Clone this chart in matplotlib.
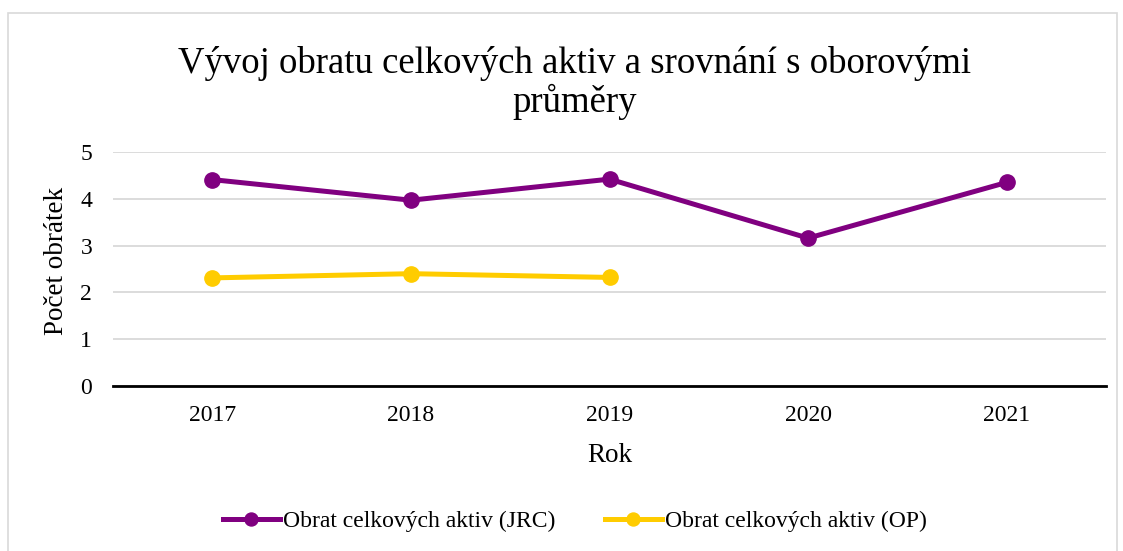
import matplotlib.pyplot as plt
from matplotlib.patches import Rectangle

years = ["2017", "2018", "2019", "2020", "2021"]
jrc = [4.41, 3.97, 4.42, 3.16, 4.35]
op_years = ["2017", "2018", "2019"]
op = [2.31, 2.40, 2.32]

plt.rcParams['font.family'] = ['Liberation Serif', 'DejaVu Serif']

fig = plt.figure(figsize=(11.23, 5.51), dpi=100)
W, H = 1123, 551
ax = fig.add_axes([113 / W, 1 - 386 / H, (1106 - 113) / W, (386 - 152) / H])

# chart border
fig.patches.append(Rectangle((8 / W, -0.01), (1117 - 8) / W, 1 - 13 / H + 0.01,
                             transform=fig.transFigure, fill=False,
                             edgecolor='#d9d9d9', linewidth=1.2))

x = list(range(len(years)))
ax.plot(x, jrc, color='#800080', linewidth=3.6, marker='o', markersize=11,
        label="Obrat celkových aktiv (JRC)", zorder=3)
ax.plot(x[:len(op)], op, color='#ffcc00', linewidth=3.6, marker='o', markersize=11,
        label="Obrat celkových aktiv (OP)", zorder=3)

ax.set_xlim(-0.5, len(years) - 0.5)
ax.set_ylim(0, 5)
ax.set_xticks(x)
ax.set_xticklabels(years)
ax.set_yticks(range(6))
ax.tick_params(axis='both', length=0, labelsize=17)
ax.tick_params(axis='y', pad=15)
ax.tick_params(axis='x', pad=14)
ax.grid(axis='y', color='#d9d9d9', linewidth=1.3)
ax.set_axisbelow(True)
for side in ['top', 'right', 'left']:
    ax.spines[side].set_visible(False)
ax.spines['bottom'].set_linewidth(2)
ax.spines['bottom'].set_color('black')

ax.set_xlabel("Rok", fontsize=19.5, labelpad=12)
ax.set_ylabel("Počet obrátek", fontsize=19.5)
ax.yaxis.set_label_coords(-(113 - 69) / (1106 - 113), (386 - 261) / (386 - 152))

fig.text(575 / W, 1 - 83 / H, "Vývoj obratu celkových aktiv a srovnání s oborovými\nprůměry",
         ha='center', va='center', fontsize=26.5, linespacing=1.1)

fig.legend(loc='center', bbox_to_anchor=(575 / W, 1 - 521 / H), ncol=2, frameon=False,
           fontsize=17, handlelength=2.4, columnspacing=2.1, handletextpad=0.15,
           markerscale=0.85)

fig.savefig("out.png", dpi=100)
